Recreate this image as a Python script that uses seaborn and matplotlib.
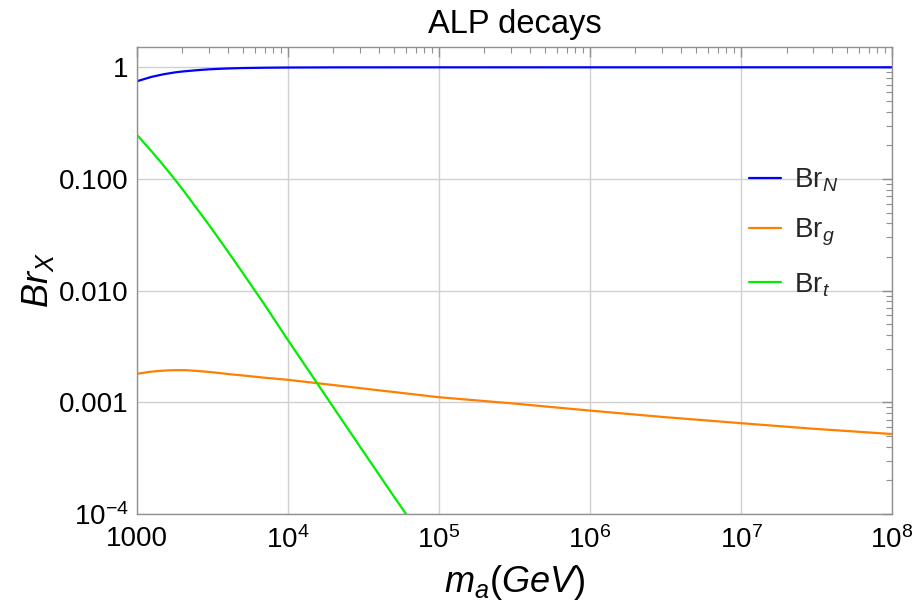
import numpy as np
import pandas as pd
import matplotlib
matplotlib.use("Agg")
import matplotlib.pyplot as plt
import seaborn as sns
from matplotlib.lines import Line2D
from matplotlib.ticker import FixedLocator, FixedFormatter, LogLocator, NullFormatter

# ---- data ----
ma_N = [1000, 1250, 1500, 1786, 2000, 2500, 3000, 4000, 5000, 7000, 1e4, 2e4, 5e4, 1e5, 1e6, 1e7, 1e8]
br_N = [0.750, 0.821, 0.866, 0.900, 0.917, 0.942, 0.959, 0.976, 0.984, 0.991, 0.995,
        0.998, 0.9987, 0.9989, 0.9992, 0.9993, 0.9995]

ma_g = [1000, 1200, 1400, 1600, 1800, 2100, 2500, 3000, 3500, 4200, 5000, 7000, 1e4,
        3e4, 1e5, 3e5, 1e6, 3e6, 1e7, 3e7, 1e8]
br_g = [0.00180, 0.00187, 0.00191, 0.00193, 0.00194, 0.00194, 0.00191, 0.00187, 0.00183,
        0.00178, 0.00174, 0.00166, 0.00159, 0.00134, 0.00111, 0.00098, 0.000843,
        0.00074, 0.00065, 0.00058, 0.00052]

ma_t = [1000, 1250, 1500, 1786, 2000, 3000, 4000, 5000, 5890, 7000, 1e4, 1.55e4, 2e4, 3e4, 5e4, 6.2e4]
br_t = [0.248, 0.1766, 0.132, 0.0984, 0.0809, 0.0387, 0.0224, 0.0145, 0.0105, 0.00748,
        0.00360, 0.00150, 0.00090, 0.00040, 0.000145, 9.5e-5]

series_names = [r"Br$_{N}$", r"Br$_{g}$", r"Br$_{t}$"]
colors = ["#0000ff", "#ff8000", "#00ee00"]

xticks = [1e3, 1e4, 1e5, 1e6, 1e7, 1e8]
xticklabels = ["1000", r"$10^{4}$", r"$10^{5}$", r"$10^{6}$", r"$10^{7}$", r"$10^{8}$"]
yticks = [1e-4, 1e-3, 1e-2, 1e-1, 1]
yticklabels = [r"$10^{-4}$", "0.001", "0.010", "0.100", "1"]

# ---- build frame ----
df = pd.concat([
    pd.DataFrame({"ma": ma_N, "br": br_N, "s": series_names[0]}),
    pd.DataFrame({"ma": ma_g, "br": br_g, "s": series_names[1]}),
    pd.DataFrame({"ma": ma_t, "br": br_t, "s": series_names[2]}),
], ignore_index=True)

sns.set_theme(style="white")
plt.rcParams["font.family"] = ["Liberation Sans", "DejaVu Sans"]
plt.rcParams["mathtext.fontset"] = "custom"
plt.rcParams["mathtext.rm"] = "Liberation Sans"
plt.rcParams["mathtext.it"] = "Liberation Sans:italic"
plt.rcParams["mathtext.bf"] = "Liberation Sans:bold"

fig = plt.figure(figsize=(9.17, 6.10), dpi=100)
ax = fig.add_axes([0.1494, 0.1574, 0.8234, 0.7656])

palette = dict(zip(series_names, colors))
sns.lineplot(data=df, x="ma", y="br", hue="s", palette=palette, sort=False,
             estimator=None, linewidth=1.6, legend=False, ax=ax)

ax.set_xscale("log")
ax.set_yscale("log")
ax.set_xlim(1e3, 1e8)
ax.set_ylim(1e-4, 1.52)

ax.xaxis.set_major_locator(FixedLocator(xticks))
ax.xaxis.set_major_formatter(FixedFormatter(xticklabels))
ax.yaxis.set_major_locator(FixedLocator(yticks))
ax.yaxis.set_major_formatter(FixedFormatter(yticklabels))
ax.xaxis.set_minor_locator(LogLocator(base=10, subs=np.arange(2, 10)))
ax.yaxis.set_minor_locator(LogLocator(base=10, subs=np.arange(2, 10)))
ax.xaxis.set_minor_formatter(NullFormatter())
ax.yaxis.set_minor_formatter(NullFormatter())

ax.grid(True, which="major", color="#d0d0d0", linewidth=1.0)
ax.set_axisbelow(True)
for sp in ax.spines.values():
    sp.set_color("#909090")
    sp.set_linewidth(1.0)
    sp.set_visible(True)

ax.tick_params(which="both", direction="in", top=True, right=True, color="#909090")
ax.tick_params(which="major", length=7, width=1.0, labelsize=20, labelcolor="black")
ax.tick_params(axis="x", which="major", pad=9)
ax.tick_params(axis="y", which="major", pad=6)
ax.tick_params(which="minor", length=4, width=0.8)

ax.set_title("ALP decays", fontsize=23.5, pad=10, color="black")
ax.set_xlabel(r"$m_{a}(GeV)$", fontsize=26, labelpad=6, color="black")
ax.set_ylabel(r"$Br_{X}$", fontsize=26, labelpad=2, color="black")

handles = [Line2D([0], [0], color=c, lw=1.6) for c in colors]
leg = ax.legend(handles, series_names, loc="upper left", bbox_to_anchor=(0.778, 0.797),
                frameon=False, fontsize=20, handlelength=1.15, handletextpad=0.45,
                labelspacing=0.82)

fig.savefig("out.png", dpi=100)
